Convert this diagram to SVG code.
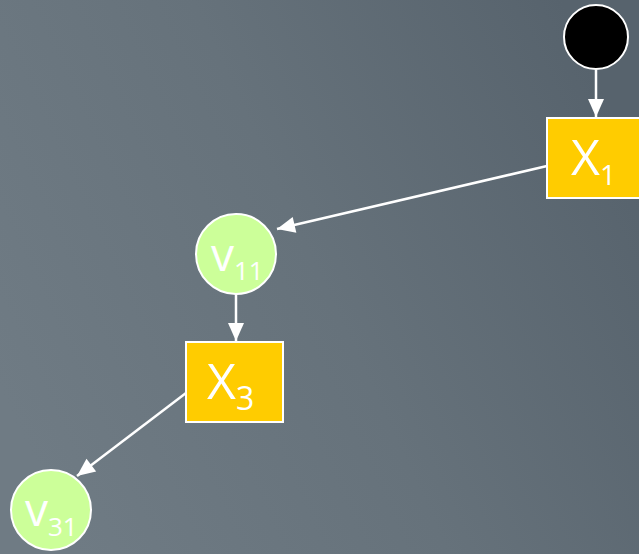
<svg xmlns="http://www.w3.org/2000/svg" width="639" height="554" viewBox="0 0 639 554">
<defs>
<linearGradient id="bg" x1="0" y1="0.7" x2="1" y2="0.3">
<stop offset="0" stop-color="#6f7b84"/>
<stop offset="0.5" stop-color="#66727b"/>
<stop offset="1" stop-color="#57636d"/>
</linearGradient>
<marker id="arr" viewBox="0 0 18 16" refX="18" refY="8" markerWidth="18" markerHeight="16" markerUnits="userSpaceOnUse" orient="auto" overflow="visible">
<path d="M0,0 L18,8 L0,16 z" fill="#ffffff"/>
</marker>
<style>
.box{fill:#ffcc00;stroke:#ffffff;stroke-width:2}
.var{fill:#ccff99;stroke:#ffffff;stroke-width:2}
.edge{stroke:#ffffff;stroke-width:2.5;fill:none;marker-end:url(#arr)}
.lbl{fill:#ffffff;font-family:"Open Sans","DejaVu Sans",sans-serif;font-weight:400}
</style>
</defs>
<rect width="639" height="554" fill="url(#bg)"/>
<g id="connectors">
<line class="edge" x1="596" y1="70" x2="596" y2="117"/>
<line class="edge" x1="547" y1="166" x2="277" y2="229"/>
<line class="edge" x1="236" y1="294" x2="236" y2="341"/>
<line class="edge" x1="186" y1="393" x2="77" y2="476"/>
</g>
<g id="start">
<circle cx="596" cy="37" r="32" fill="#000000" stroke="#ffffff" stroke-width="2"/>
</g>
<g id="X1">
<rect class="box" x="547" y="118" width="96" height="80"/>
<text class="lbl" x="571" y="175" font-size="50">X<tspan font-size="28" dy="10">1</tspan></text>
</g>
<g id="v11">
<circle class="var" cx="236" cy="254" r="40"/>
<text class="lbl" x="211" y="271" font-size="46">v<tspan font-size="26" dy="9">11</tspan></text>
</g>
<g id="X3">
<rect class="box" x="186" y="342" width="97" height="80"/>
<text class="lbl" x="207" y="399" font-size="50">X<tspan font-size="32" dy="11">3</tspan></text>
</g>
<g id="v31">
<circle class="var" cx="51" cy="510" r="40"/>
<text class="lbl" x="25" y="526" font-size="46">v<tspan font-size="26" dy="10">31</tspan></text>
</g>
</svg>
